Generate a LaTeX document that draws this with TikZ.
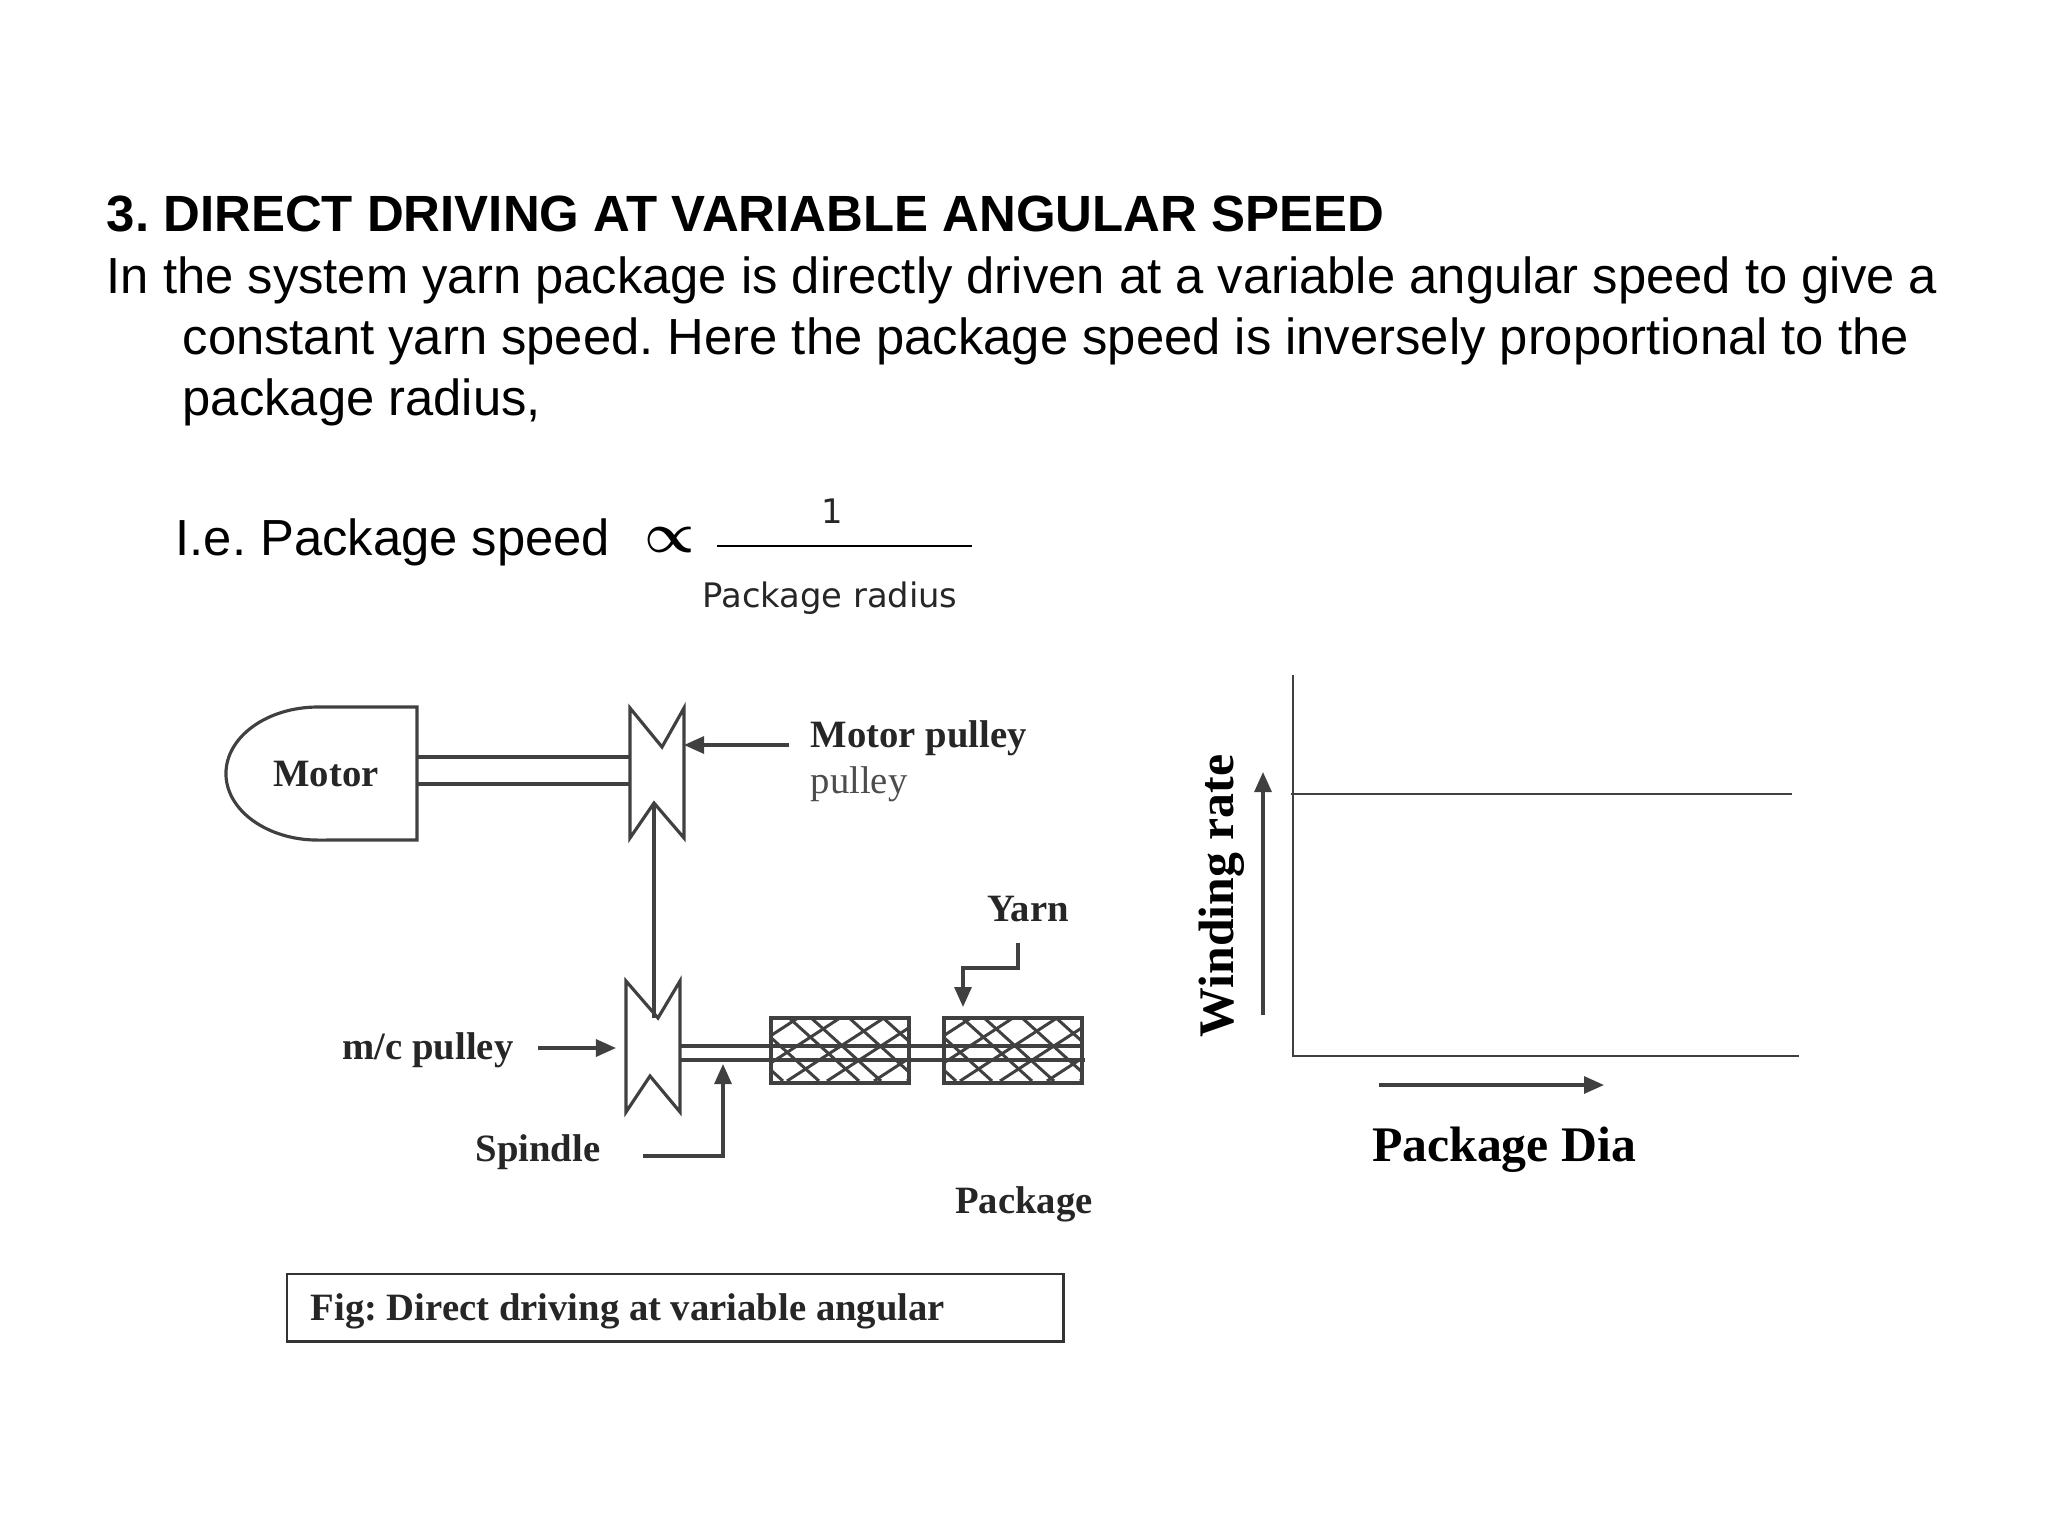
\documentclass[tikz,border=0pt]{standalone}
\usepackage{amsmath}
\usepackage{fontspec}
\usepackage{tikz}
\usetikzlibrary{arrows.meta}
\setmainfont{Liberation Sans}
\newfontfamily\labelfont{Liberation Serif}
\newfontfamily\fracfont{DejaVu Sans}
\frenchspacing
\tikzset{
    bodytext/.style={anchor=base west, inner sep=0pt, font=\fontsize{14.43pt}{17pt}\selectfont, text=black},
    fractext/.style={inner sep=0pt, font=\fracfont\fontsize{9.6pt}{11pt}\selectfont, text=black!85},
    figlabel/.style={inner sep=0pt, font=\labelfont\bfseries\fontsize{11pt}{13pt}\selectfont, text=black!85},
    graphlabel/.style={inner sep=0pt, font=\labelfont\bfseries\fontsize{14.15pt}{17pt}\selectfont, text=black},
    part/.style={draw=black!75, line width=0.9pt},
    axisline/.style={draw=black!75, line width=0.7pt},
    pointer/.style={draw=black!75, line width=0.9pt, -{Triangle[length=0.2cm,width=0.17cm]}},
    hatchline/.style={draw=black!75, line width=0.85pt},
}
\begin{document}
\begin{tikzpicture}[x=0.01cm, y=-0.01cm]
    \useasboundingbox (0,0) rectangle (2048,1536);
    \node[bodytext, font=\bfseries\fontsize{14.49pt}{17pt}\selectfont] (title) at (106,231) {3. DIRECT DRIVING AT VARIABLE ANGULAR SPEED};
    \node[bodytext] (lineone) at (106,293) {In the system yarn package is directly driven at a variable angular speed to give a};
    \node[bodytext] (linetwo) at (182,354) {constant yarn speed. Here the package speed is inversely proportional to the};
    \node[bodytext] (linethree) at (182,415) {package radius,};
    \node[bodytext] (ie) at (175,555) {I.e. Package speed};
    \node[inner sep=0pt, scale=1.6] (prop) at (670,540) {\(\boldsymbol{\propto}\)};
    \node[fractext] (num) at (832,511) {1};
    \node[fractext] (den) at (830,598) {Package radius};
    \coordinate (fracl) at (717,546);
    \coordinate (fracr) at (972,546);
    \draw[black, line width=0.6pt] (fracl) -- (fracr);

    \coordinate (motortop) at (417,707);
    \coordinate (motorbot) at (417,840);
    \draw[part] (motortop) -- (318,707) arc[start angle=90, end angle=270, x radius=0.92cm, y radius=0.665cm] -- (motorbot) -- cycle;
    \node[figlabel] (motor) at (326,774) {Motor};
    \coordinate (mpnotchtop) at (662,747);
    \coordinate (mpnotchbot) at (654,803);
    \draw[part] (630,708) -- (mpnotchtop) -- (684,708) -- (684,838) -- (mpnotchbot) -- (630,838) -- cycle;
    \draw[part] (417,757) -- (630,757);
    \draw[part] (417,784) -- (630,784);
    \coordinate (cpnotchtop) at (658,1018);
    \coordinate (cpnotchbot) at (650,1076);
    \draw[part] (626,981) -- (cpnotchtop) -- (680,981) -- (680,1112) -- (cpnotchbot) -- (626,1112) -- cycle;
    \draw[part] (mpnotchbot) -- (mpnotchbot |- cpnotchtop);

    \foreach \pkgx in {769, 942} {
        \begin{scope}[shift={(\pkgx,1016)}]
            \clip (0,0) rectangle (138,65);
            \foreach \k in {-58,-22,18,40,78,112}
                \draw[hatchline] (\k,0) -- (\k+72,65);
            \foreach \k in {32,74,118,158,205,238}
                \draw[hatchline] (\k,0) -- (\k-100,65);
        \end{scope}
    }
    \draw[part] (680,1046) -- (1082,1046);
    \draw[part] (680,1060) -- (1085,1060);
    \foreach \pkgx/\pkgname in {769/pkga, 942/pkgb}
        \node[part, line width=1.1pt, minimum width=1.38cm, minimum height=0.65cm, inner sep=0pt, anchor=north west] (\pkgname) at (\pkgx,1016) {};

    \node[figlabel, anchor=west] (mplabel) at (810,738) {Motor pulley};
    \node[figlabel, anchor=west, font=\labelfont\fontsize{11pt}{13pt}\selectfont, text=black!70] (pulleylabel) at (810,784) {pulley};
    \coordinate (mpfrom) at (789,745);
    \coordinate (mpto) at (684,745);
    \draw[pointer] (mpfrom) -- (mpto);
    \node[figlabel] (yarn) at (1028,909) {Yarn};
    \coordinate (yarnfrom) at (1018,943);
    \coordinate (yarnto) at (963,1007);
    \draw[pointer] (yarnfrom) |- (963,968) -- (yarnto);
    \node[figlabel] (mclabel) at (428,1050) {m/c pulley};
    \coordinate (mcfrom) at (538,1048);
    \coordinate (mcto) at (616,1048);
    \draw[pointer] (mcfrom) -- (mcto);
    \node[figlabel] (spindle) at (538,1152) {Spindle};
    \coordinate (spfrom) at (643,1156);
    \coordinate (spto) at (723,1064);
    \draw[pointer] (spfrom) -| (spto);
    \node[figlabel] (pkglabel) at (1024,1204) {Package};
    \node[draw=black!80, line width=0.7pt, minimum width=7.76cm, minimum height=0.67cm, anchor=north west] (capbox) at (286,1273) {};
    \node[figlabel, anchor=west] (caption) at (310,1311) {Fig: Direct driving at variable angular};

    \coordinate (axistop) at (1293,675);
    \coordinate (origin) at (1293,1056);
    \coordinate (axisend) at (1799,1056);
    \draw[axisline] (axistop) -- (origin) -- (axisend);
    \coordinate (ratel) at (1291,794);
    \coordinate (rater) at (1792,794);
    \draw[axisline] (ratel) -- (rater);
    \coordinate (upfrom) at (1263,1015);
    \coordinate (upto) at (1263,772);
    \draw[pointer] (upfrom) -- (upto);
    \coordinate (rightfrom) at (1379,1085);
    \coordinate (rightto) at (1604,1085);
    \draw[pointer] (rightfrom) -- (rightto);
    \node[graphlabel, rotate=90] (winding) at (1222,896) {Winding rate};
    \node[graphlabel] (dia) at (1504,1150) {Package Dia};
\end{tikzpicture}
\end{document}
